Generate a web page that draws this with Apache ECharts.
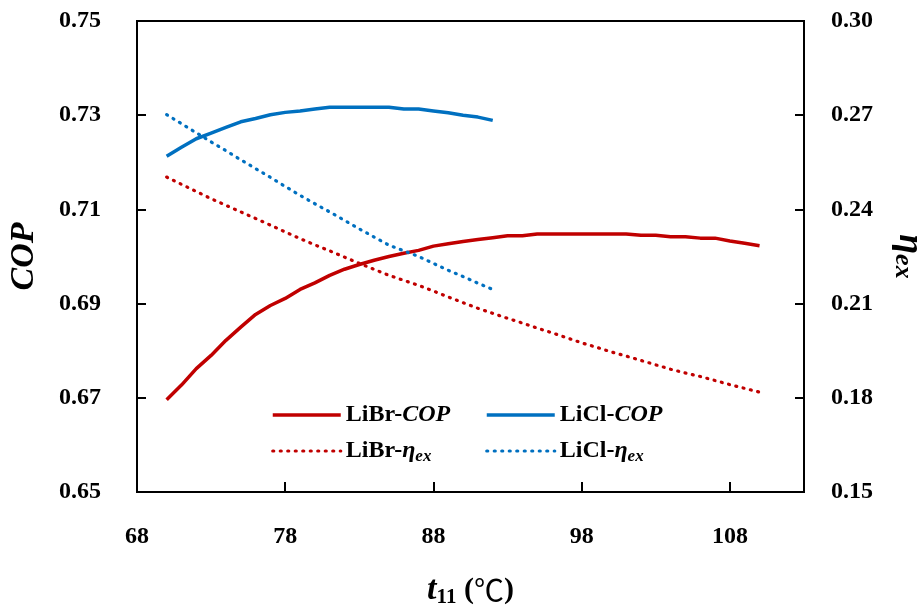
<!DOCTYPE html>
<html><head><meta charset="utf-8">
<script src="https://cdn.jsdelivr.net/npm/echarts@6/dist/echarts.min.js"></script>
<style>html,body{margin:0;padding:0;background:#fff}#c{width:924px;height:613px}</style>
</head><body><div id="c"></div>
<script>
var tLiBr = [70,71,72,73,74,75,76,77,78,79,80,81,82,83,84,85,86,87,88,89,90,91,92,93,94,95,96,97,98,99,100,101,102,103,104,105,106,107,108,109,110];
var copLiBr = [0.6696,0.6727,0.6762,0.6790,0.6822,0.6850,0.6877,0.6896,0.6911,0.6930,0.6944,0.6960,0.6973,0.6983,0.6992,0.7000,0.7007,0.7013,0.7022,0.7027,0.7032,0.7036,0.7040,0.7044,0.7044,0.7048,0.7048,0.7048,0.7048,0.7048,0.7048,0.7048,0.7045,0.7045,0.7042,0.7042,0.7039,0.7039,0.7033,0.7028,0.7023];
var etaLiBr = [0.2503,0.2480,0.2457,0.2434,0.2413,0.2392,0.2371,0.2350,0.2328,0.2307,0.2287,0.2268,0.2248,0.2228,0.2209,0.2190,0.2174,0.2158,0.2140,0.2121,0.2103,0.2085,0.2069,0.2053,0.2038,0.2022,0.2007,0.1991,0.1975,0.1961,0.1946,0.1933,0.1919,0.1905,0.1891,0.1879,0.1868,0.1855,0.1842,0.1830,0.1818];
var tLiCl = [70,71,72,73,74,75,76,77,78,79,80,81,82,83,84,85,86,87,88,89,90,91,92];
var copLiCl = [0.7213,0.7232,0.7250,0.7262,0.7274,0.7286,0.7293,0.7301,0.7306,0.7309,0.7313,0.7317,0.7317,0.7317,0.7317,0.7317,0.7313,0.7313,0.7309,0.7305,0.7300,0.7296,0.7289];
var etaLiCl = [0.2702,0.2673,0.2644,0.2615,0.2587,0.2558,0.2530,0.2502,0.2473,0.2445,0.2418,0.2392,0.2365,0.2338,0.2312,0.2286,0.2268,0.2250,0.2228,0.2206,0.2186,0.2165,0.2145];
var seriesNames = ['LiBr-COP','LiCl-COP','LiBr-eta','LiCl-eta'];

function pairs(xs, ys){ return xs.map(function(x,i){ return [x, ys[i]]; }); }
var RED = '#C00000', BLUE = '#0070C0';
var FF = '"Liberation Serif", "DejaVu Serif", serif';
var legendRich = {
  a: {fontFamily: FF, fontWeight: 'bold', fontSize: 24, color: '#000', lineHeight: 28},
  i: {fontFamily: FF, fontWeight: 'bold', fontStyle: 'italic', fontSize: 24, color: '#000', lineHeight: 28},
  s: {fontFamily: FF, fontWeight: 'bold', fontStyle: 'italic', fontSize: 17, color: '#000', lineHeight: 18, verticalAlign: 'bottom'}
};
function legendFmt(name){
  var p = name.split('-');
  if (p[1] === 'COP') return '{a|' + p[0] + '-}{i|COP}';
  return '{a|' + p[0] + '-}{i|η}{s|ex}';
}
var dotStyle = [1, 6.5];
function legItem(name, color, dotted){
  return {name: name, itemStyle: {opacity: 0},
    lineStyle: dotted ? {color: color, width: 3.2, type: dotStyle, cap: 'round'} : {color: color, width: 3.5}};
}
var chart = echarts.init(document.getElementById('c'));
chart.setOption({
  animation: false,
  backgroundColor: '#fff',
  grid: {left: 137, right: 120, top: 21, bottom: 121, show: true, borderColor: '#000', borderWidth: 2, outerBoundsMode: 'none', containLabel: false},
  legend: [
    {data: [legItem(seriesNames[0], RED, false), legItem(seriesNames[2], RED, true)], orient: 'vertical', left: 266, top: 398, itemWidth: 68, itemHeight: 14, itemGap: 12, formatter: legendFmt, textStyle: {rich: legendRich}},
    {data: [legItem(seriesNames[1], BLUE, false), legItem(seriesNames[3], BLUE, true)], orient: 'vertical', left: 480, top: 398, itemWidth: 68, itemHeight: 14, itemGap: 12, formatter: legendFmt, textStyle: {rich: legendRich}}
  ],
  xAxis: {
    type: 'value', min: 68, max: 113, interval: 10,
    name: '{t|t}{s|11}{c| (}{d|℃}{c|)}', nameLocation: 'middle', nameGap: 80,
    nameTextStyle: {rich: {
      t: {fontFamily: FF, fontWeight: 'bold', fontStyle: 'italic', fontSize: 34, color: '#000', lineHeight: 36},
      s: {fontFamily: FF, fontWeight: 'bold', fontSize: 21, color: '#000', lineHeight: 22, verticalAlign: 'bottom'},
      c: {fontFamily: FF, fontWeight: 'bold', fontSize: 30, color: '#000', lineHeight: 36},
      d: {fontFamily: '"Noto Sans CJK SC", serif', fontWeight: 'normal', fontSize: 30, color: '#000', lineHeight: 36}
    }},
    axisLine: {show: true, onZero: false, lineStyle: {color: '#000', width: 2}},
    axisTick: {show: true, inside: true, length: 10, lineStyle: {color: '#000', width: 2}},
    axisLabel: {showMaxLabel: false, margin: 33, fontFamily: FF, fontWeight: 'bold', fontSize: 24, color: '#000'},
    splitLine: {show: false}
  },
  yAxis: [
    {
      type: 'value', min: 0.65, max: 0.75, interval: 0.02, position: 'left',
      name: 'COP', nameLocation: 'middle', nameGap: 96, nameRotate: 90,
      nameTextStyle: {fontFamily: FF, fontWeight: 'bold', fontStyle: 'italic', fontSize: 34, color: '#000'},
      axisLine: {show: true, lineStyle: {color: '#000', width: 2}},
      axisTick: {show: true, inside: true, length: 9, lineStyle: {color: '#000', width: 2}},
      axisLabel: {margin: 36, fontFamily: FF, fontWeight: 'bold', fontSize: 24, color: '#000', formatter: function(v){ return v.toFixed(2); }},
      splitLine: {show: false}
    },
    {
      type: 'value', min: 0.15, max: 0.30, interval: 0.03, position: 'right',
      name: '{e|η}{s|ex}', nameLocation: 'middle', nameGap: 86, nameRotate: -90,
      nameTextStyle: {rich: {
        e: {fontFamily: FF, fontWeight: 'bold', fontStyle: 'italic', fontSize: 36, color: '#000', lineHeight: 38},
        s: {fontFamily: FF, fontWeight: 'bold', fontStyle: 'italic', fontSize: 26, color: '#000', lineHeight: 28, verticalAlign: 'bottom'}
      }},
      axisLine: {show: true, lineStyle: {color: '#000', width: 2}},
      axisTick: {show: true, inside: true, length: 9, lineStyle: {color: '#000', width: 2}},
      axisLabel: {margin: 27, fontFamily: FF, fontWeight: 'bold', fontSize: 24, color: '#000', formatter: function(v){ return v.toFixed(2); }},
      splitLine: {show: false}
    }
  ],
  series: [
    {name: seriesNames[0], type: 'line', yAxisIndex: 0, data: pairs(tLiBr, copLiBr), symbol: 'none', lineStyle: {color: RED, width: 3.5}, itemStyle: {color: RED}},
    {name: seriesNames[1], type: 'line', yAxisIndex: 0, data: pairs(tLiCl, copLiCl), symbol: 'none', lineStyle: {color: BLUE, width: 3.5}, itemStyle: {color: BLUE}},
    {name: seriesNames[2], type: 'line', yAxisIndex: 1, data: pairs(tLiBr, etaLiBr), symbol: 'none', lineStyle: {color: RED, width: 3.2, type: dotStyle, cap: 'round'}, itemStyle: {color: RED}},
    {name: seriesNames[3], type: 'line', yAxisIndex: 1, data: pairs(tLiCl, etaLiCl), symbol: 'none', lineStyle: {color: BLUE, width: 3.2, type: dotStyle, cap: 'round'}, itemStyle: {color: BLUE}}
  ]
});
</script></body></html>
